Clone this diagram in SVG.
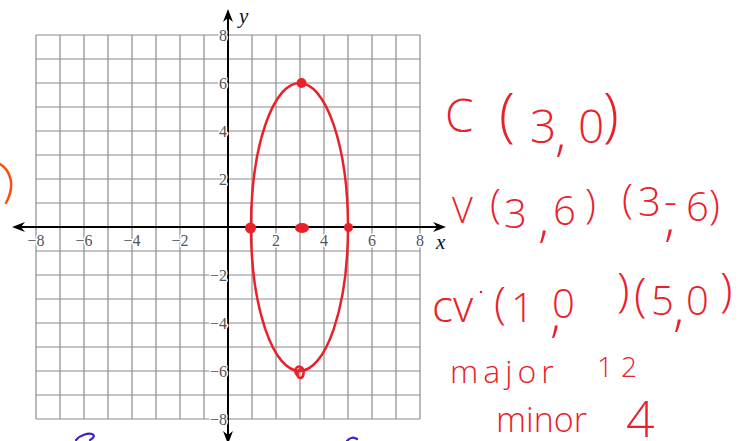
<svg xmlns="http://www.w3.org/2000/svg" width="744" height="441" viewBox="0 0 744 441">
<defs>
<style>
.grid{stroke:#8c8c8c;stroke-width:1.2;fill:none}
.axis{stroke:#000;stroke-width:2;fill:none}
.tick{font-family:"Liberation Serif",serif;font-size:16px;fill:#555;stroke:#fff;stroke-width:3;paint-order:stroke;stroke-linejoin:round}
.tx{text-anchor:middle}
.ty{text-anchor:end}
.var{font-family:"Liberation Serif",serif;font-style:italic;font-size:21px;fill:#111}
.ink{stroke:#e8212a;stroke-width:2.5;fill:none;stroke-linecap:round;stroke-linejoin:round}
.dot{fill:#e8212a}
.hw{font-family:"Open Sans","Liberation Sans",sans-serif;font-weight:300;fill:#e8212a}
.blue{stroke:#3a1fd0;stroke-width:2.2;fill:none;stroke-linecap:round}
</style>
<marker id="arr" viewBox="-6 -6 15 12" markerWidth="15" markerHeight="12" refX="0" refY="0" orient="auto-start-reverse" markerUnits="userSpaceOnUse">
<path d="M8,0 L-5,-5 L-1,0 L-5,5 Z" fill="#000"/>
</marker>
</defs>
<rect width="744" height="441" fill="#fff"/>
<g id="grid">
<path class="grid" d="M36 35V419M60 35V419M84 35V419M108 35V419M132 35V419M156 35V419M180 35V419M204 35V419M228 35V419M252 35V419M276 35V419M300 35V419M324 35V419M348 35V419M372 35V419M396 35V419M420 35V419M36 35H420M36 59H420M36 83H420M36 107H420M36 131H420M36 155H420M36 179H420M36 203H420M36 227H420M36 251H420M36 275H420M36 299H420M36 323H420M36 347H420M36 371H420M36 395H420M36 419H420"/>
</g>
<g id="axes">
<line class="axis" x1="20" y1="227" x2="438" y2="227" marker-start="url(#arr)" marker-end="url(#arr)"/>
<line class="axis" x1="228" y1="17" x2="228" y2="436" marker-start="url(#arr)" marker-end="url(#arr)"/>
<text class="var" x="239" y="23">y</text>
<text class="var" x="436" y="249">x</text>
</g>
<g id="tick-labels">
<text class="tick tx" x="36" y="246">−8</text>
<text class="tick tx" x="84" y="246">−6</text>
<text class="tick tx" x="132" y="246">−4</text>
<text class="tick tx" x="180" y="246">−2</text>
<text class="tick tx" x="276" y="246">2</text>
<text class="tick tx" x="324" y="246">4</text>
<text class="tick tx" x="372" y="246">6</text>
<text class="tick tx" x="420" y="246">8</text>
<text class="tick ty" x="227" y="41">8</text>
<text class="tick ty" x="227" y="89">6</text>
<text class="tick ty" x="227" y="137">4</text>
<text class="tick ty" x="227" y="185">2</text>
<text class="tick ty" x="227" y="281">−2</text>
<text class="tick ty" x="227" y="329">−4</text>
<text class="tick ty" x="227" y="377">−6</text>
<text class="tick ty" x="227" y="425">−8</text>
</g>
<g id="ellipse">
<ellipse class="ink" cx="299.5" cy="227" rx="48.5" ry="144"/>
<circle class="dot" cx="301.5" cy="83" r="5"/>
<circle class="dot" cx="250.5" cy="228" r="5.5"/>
<ellipse class="dot" cx="302" cy="228" rx="7" ry="5"/>
<circle class="dot" cx="348.5" cy="227.5" r="4.5"/>
<path class="ink" d="M297,375 C293,370 297,365 301,367 C305,369 304,377 301,378 C297,379 296,372 300,369"/>
</g>
<g id="notes">
<text class="hw" font-size="46"><tspan x="445" y="132">C</tspan><tspan x="499" y="135" font-size="58">(</tspan><tspan x="530" y="143">3</tspan><tspan x="555" y="150" font-size="52">,</tspan><tspan x="578" y="143">0</tspan><tspan x="603" y="135" font-size="58">)</tspan></text>
<text class="hw" font-size="40"><tspan x="452" y="223" font-size="36">V</tspan><tspan x="490" y="218">(</tspan><tspan x="504" y="228">3</tspan><tspan x="538" y="236" font-size="52">,</tspan><tspan x="553" y="225">6</tspan><tspan x="585" y="218">)</tspan><tspan x="622" y="213">(</tspan><tspan x="638" y="216">3</tspan><tspan x="664" y="235" font-size="52">,</tspan><tspan x="664" y="215">-</tspan><tspan x="686" y="221">6</tspan><tspan x="709" y="219">)</tspan></text>
<circle class="dot" cx="481" cy="292" r="1.3"/>
<text class="hw" font-size="40"><tspan x="432" y="322" font-size="44">cv</tspan><tspan x="494" y="319" font-size="44">(</tspan><tspan x="511" y="322">1</tspan><tspan x="550" y="331" font-size="52">,</tspan><tspan x="552" y="318">0</tspan><tspan x="617" y="306" font-size="46">)</tspan><tspan x="634" y="311" font-size="46">(</tspan><tspan x="651" y="315">5</tspan><tspan x="673" y="325" font-size="52">,</tspan><tspan x="686" y="315">0</tspan><tspan x="720" y="306" font-size="46">)</tspan></text>
<text class="hw" font-size="32" x="450" y="383" letter-spacing="5">major</text>
<text class="hw" font-size="28" x="597" y="377" letter-spacing="8">12</text>
<text class="hw" font-size="34" x="496" y="432">minor</text>
<text class="hw" font-size="50" x="626" y="437">4</text>
<path d="M0,164 C10,170 16,185 6,203" stroke="#ff4e0a" stroke-width="2.5" fill="none" stroke-linecap="round"/>
<path class="blue" d="M76,440 C80,435 88,433 92,434 C95,435 94,438 90,440"/>
<path class="blue" d="M347,441 C350,437 354,437 357,439"/>
</g>
</svg>
